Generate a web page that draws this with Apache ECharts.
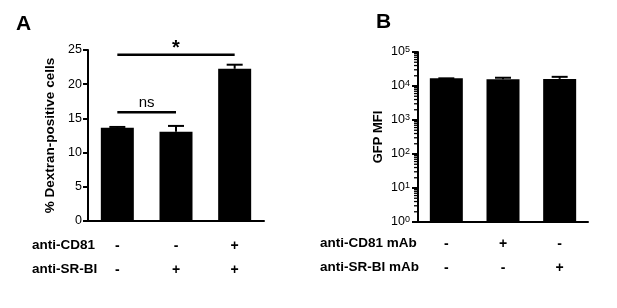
<!DOCTYPE html>
<html><head><meta charset="utf-8">
<script src="https://cdn.jsdelivr.net/npm/echarts@6/dist/echarts.min.js"></script>
<style>html,body{margin:0;padding:0;background:#fff}#c{width:617px;height:308px}</style>
</head><body><div id="c"></div>
<script>
const FONT = 'Liberation Sans, Arial, sans-serif';
// Panel A
const groupsA = ['1', '2', '3'];
const cd81A = ['-', '-', '+'];
const srbiA = ['-', '+', '+'];
const dextranMean = [13.65, 13.05, 22.25];
const dextranErr = [0.1, 0.85, 0.6];
const sigFrom = [0, 0];
const sigTo = [1, 2];
const sigLevel = [15.9, 24.3];
const sigText = ['ns', '*'];
// Panel B
const groupsB = ['1', '2', '3'];
const cd81B = ['-', '+', '-'];
const srbiB = ['-', '-', '+'];
const gfpMean = [16800, 15700, 16200];
const gfpErr = [0, 1800, 2400];
const decades = [0, 1, 2, 3, 4, 5];

const minorVals = [];
for (let k = 0; k < decades.length - 1; k++) for (let m = 2; m <= 9; m++) minorVals.push(m * Math.pow(10, decades[k]));

const chart = echarts.init(document.getElementById('c'));

function errRender(params, api) {
  const i = api.value(0), m = api.value(1), e = api.value(2);
  const b = api.coord([i, m]), t = api.coord([i, m + e]);
  const hw = 8;
  return {type: 'group', children: [
    {type: 'line', shape: {x1: b[0], y1: b[1], x2: t[0], y2: t[1]}, style: {stroke: '#000', lineWidth: 2}},
    {type: 'line', shape: {x1: t[0] - hw, y1: t[1], x2: t[0] + hw, y2: t[1]}, style: {stroke: '#000', lineWidth: 2}}
  ]};
}
function sigRender(params, api) {
  const a = api.coord([api.value(0), api.value(2)]);
  const b = api.coord([api.value(1), api.value(2)]);
  const lab = sigText[params.dataIndex];
  const star = lab === '*';
  return {type: 'group', children: [
    {type: 'line', shape: {x1: a[0], y1: a[1], x2: b[0], y2: b[1]}, style: {stroke: '#000', lineWidth: 2.5}},
    {type: 'text', x: (a[0] + b[0]) / 2, y: star ? a[1] + 4 : a[1] - 2,
      style: {text: lab, align: 'center', verticalAlign: 'bottom', fontFamily: FONT,
        fontSize: star ? 20 : 15, fontWeight: star ? 'bold' : 'normal', fill: '#000'}}
  ]};
}
function minorRender(params, api) {
  const p = api.coord([0, api.value(1)]);
  const x = params.coordSys.x;
  return {type: 'line', shape: {x1: x - 4, y1: p[1], x2: x, y2: p[1]}, style: {stroke: '#000', lineWidth: 1.3}};
}

const axisLineStyle = {lineStyle: {color: '#000', width: 2}};
const labelRich = {fontFamily: FONT, fontSize: 14, fontWeight: 'bold', color: '#000', lineHeight: 24};

chart.setOption({
  animation: false,
  textStyle: {fontFamily: FONT},
  grid: [
    {left: 88, top: 50, width: 176, height: 171},
    {left: 418, top: 52, width: 170, height: 170}
  ],
  xAxis: [
    {type: 'category', gridIndex: 0, data: groupsA, axisLine: axisLineStyle,
      axisTick: {alignWithLabel: true, length: 6, lineStyle: {color: '#000', width: 2}},
      axisLabel: Object.assign({margin: 13, formatter: (v, i) => cd81A[i] + '\n' + srbiA[i]}, labelRich)},
    {type: 'category', gridIndex: 1, data: groupsB, axisLine: axisLineStyle,
      axisTick: {alignWithLabel: true, length: 6, lineStyle: {color: '#000', width: 2}},
      axisLabel: Object.assign({margin: 10, formatter: (v, i) => cd81B[i] + '\n' + srbiB[i]}, labelRich)}
  ],
  yAxis: [
    {type: 'value', gridIndex: 0, min: 0, max: 25, interval: 5, splitLine: {show: false},
      axisLine: Object.assign({show: true}, axisLineStyle),
      axisTick: {show: true, length: 5, lineStyle: {color: '#000', width: 2}},
      axisLabel: {fontFamily: FONT, fontSize: 12.5, color: '#000', margin: 6},
      name: '% Dextran-positive cells', nameLocation: 'middle', nameGap: 31,
      nameTextStyle: {fontFamily: FONT, fontSize: 13.5, fontWeight: 'bold', color: '#000'}},
    {type: 'log', gridIndex: 1, logBase: 10, min: 1, max: 100000, splitNumber: 5, splitLine: {show: false},
      axisLine: Object.assign({show: true}, axisLineStyle),
      axisTick: {show: true, length: 6, lineStyle: {color: '#000', width: 2}},
      axisLabel: {margin: 8, formatter: v => '{b|10}{s|' + Math.round(Math.log10(v)) + '}',
        rich: {b: {fontFamily: FONT, fontSize: 12.5, color: '#000', lineHeight: 14, verticalAlign: 'middle'},
               s: {fontFamily: FONT, fontSize: 9, color: '#000', lineHeight: 8, verticalAlign: 'top'}}},
      name: 'GFP MFI', nameLocation: 'middle', nameGap: 33,
      nameTextStyle: {fontFamily: FONT, fontSize: 13, fontWeight: 'bold', color: '#000'}}
  ],
  series: [
    {type: 'bar', xAxisIndex: 0, yAxisIndex: 0, data: dextranMean, barWidth: 33, itemStyle: {color: '#000'}},
    {type: 'custom', xAxisIndex: 0, yAxisIndex: 0, renderItem: errRender, z: 5,
      data: dextranMean.map((m, i) => [i, m, dextranErr[i]])},
    {type: 'custom', xAxisIndex: 0, yAxisIndex: 0, renderItem: sigRender, z: 5, clip: false,
      data: sigLevel.map((y, i) => [sigFrom[i], sigTo[i], y])},
    {type: 'bar', xAxisIndex: 1, yAxisIndex: 1, data: gfpMean, barWidth: 33, itemStyle: {color: '#000'}},
    {type: 'custom', xAxisIndex: 1, yAxisIndex: 1, renderItem: errRender, z: 5,
      data: gfpMean.map((m, i) => [i, m, gfpErr[i]])},
    {type: 'custom', xAxisIndex: 1, yAxisIndex: 1, renderItem: minorRender, z: 5, clip: false,
      data: minorVals.map(v => [0, v])}
  ],
  graphic: [
    {type: 'text', left: 16, top: 14, style: {text: 'A', fontFamily: FONT, fontSize: 21, fontWeight: 'bold', fill: '#000'}},
    {type: 'text', left: 376, top: 12, style: {text: 'B', fontFamily: FONT, fontSize: 21, fontWeight: 'bold', fill: '#000'}},
    {type: 'text', left: 32, top: 238, style: {text: 'anti-CD81', fontFamily: FONT, fontSize: 13.5, fontWeight: 'bold', fill: '#000'}},
    {type: 'text', left: 32, top: 262, style: {text: 'anti-SR-BI', fontFamily: FONT, fontSize: 13.5, fontWeight: 'bold', fill: '#000'}},
    {type: 'text', left: 320, top: 236, style: {text: 'anti-CD81 mAb', fontFamily: FONT, fontSize: 13.5, fontWeight: 'bold', fill: '#000'}},
    {type: 'text', left: 320, top: 260, style: {text: 'anti-SR-BI mAb', fontFamily: FONT, fontSize: 13.5, fontWeight: 'bold', fill: '#000'}}
  ]
});
</script></body></html>
